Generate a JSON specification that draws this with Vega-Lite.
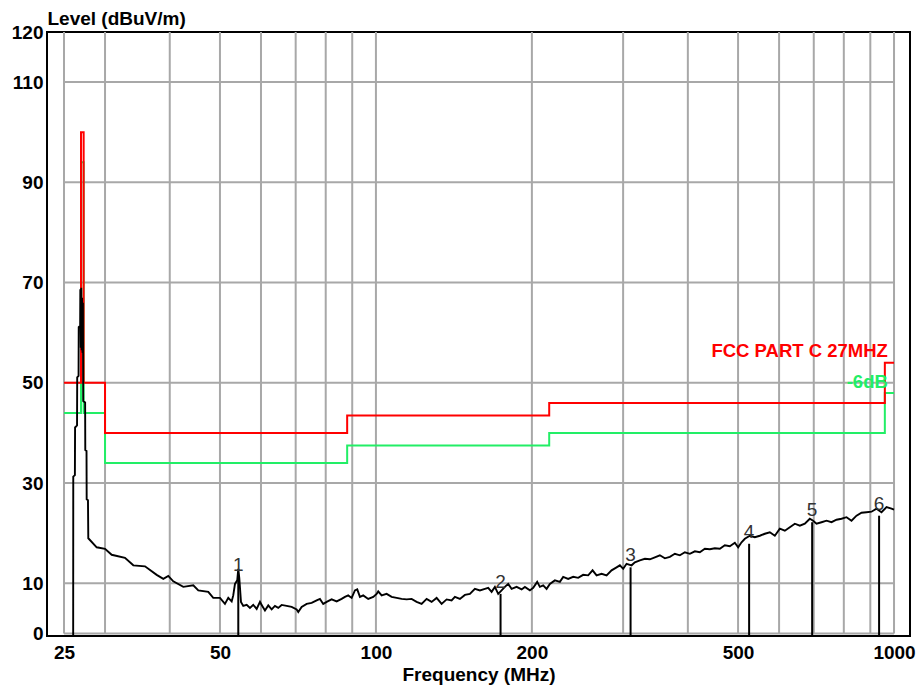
{
  "$schema": "https://vega.github.io/schema/vega-lite/v6.json",
  "width": 863,
  "height": 604,
  "autosize": {"type": "none"},
  "padding": {"left": 47, "top": 32, "right": 12, "bottom": 55},
  "background": "white",
  "config": {"view": {"stroke": "black", "strokeWidth": 2}, "font": "Liberation Sans"},
  "datasets": {
    "gridx": [
      {"f": 25, "lo": 0, "hi": 120}, {"f": 30, "lo": 0, "hi": 120}, {"f": 40, "lo": 0, "hi": 120}, {"f": 50, "lo": 0, "hi": 120},
      {"f": 60, "lo": 0, "hi": 120}, {"f": 70, "lo": 0, "hi": 120}, {"f": 80, "lo": 0, "hi": 120}, {"f": 90, "lo": 0, "hi": 120},
      {"f": 100, "lo": 0, "hi": 120}, {"f": 200, "lo": 0, "hi": 120}, {"f": 300, "lo": 0, "hi": 120}, {"f": 400, "lo": 0, "hi": 120},
      {"f": 500, "lo": 0, "hi": 120}, {"f": 600, "lo": 0, "hi": 120}, {"f": 700, "lo": 0, "hi": 120}, {"f": 800, "lo": 0, "hi": 120},
      {"f": 900, "lo": 0, "hi": 120}, {"f": 1000, "lo": 0, "hi": 120}
    ],
    "gridy": [
      {"v": 0, "lo": 25, "hi": 1000}, {"v": 10, "lo": 25, "hi": 1000}, {"v": 30, "lo": 25, "hi": 1000}, {"v": 50, "lo": 25, "hi": 1000},
      {"v": 70, "lo": 25, "hi": 1000}, {"v": 90, "lo": 25, "hi": 1000}, {"v": 110, "lo": 25, "hi": 1000}
    ],
    "limits": [
      {"s": "FCC PART C 27MHZ", "i": 0, "f": 25, "v": 50},
      {"s": "FCC PART C 27MHZ", "i": 1, "f": 26.96, "v": 50},
      {"s": "FCC PART C 27MHZ", "i": 2, "f": 26.96, "v": 100},
      {"s": "FCC PART C 27MHZ", "i": 3, "f": 27.28, "v": 100},
      {"s": "FCC PART C 27MHZ", "i": 4, "f": 27.28, "v": 50},
      {"s": "FCC PART C 27MHZ", "i": 5, "f": 30, "v": 50},
      {"s": "FCC PART C 27MHZ", "i": 6, "f": 30, "v": 40},
      {"s": "FCC PART C 27MHZ", "i": 7, "f": 88, "v": 40},
      {"s": "FCC PART C 27MHZ", "i": 8, "f": 88, "v": 43.5},
      {"s": "FCC PART C 27MHZ", "i": 9, "f": 216, "v": 43.5},
      {"s": "FCC PART C 27MHZ", "i": 10, "f": 216, "v": 46},
      {"s": "FCC PART C 27MHZ", "i": 11, "f": 960, "v": 46},
      {"s": "FCC PART C 27MHZ", "i": 12, "f": 960, "v": 54},
      {"s": "FCC PART C 27MHZ", "i": 13, "f": 1000, "v": 54},
      {"s": "-6dB", "i": 0, "f": 25, "v": 44},
      {"s": "-6dB", "i": 1, "f": 26.96, "v": 44},
      {"s": "-6dB", "i": 2, "f": 26.96, "v": 94},
      {"s": "-6dB", "i": 3, "f": 27.28, "v": 94},
      {"s": "-6dB", "i": 4, "f": 27.28, "v": 44},
      {"s": "-6dB", "i": 5, "f": 30, "v": 44},
      {"s": "-6dB", "i": 6, "f": 30, "v": 34},
      {"s": "-6dB", "i": 7, "f": 88, "v": 34},
      {"s": "-6dB", "i": 8, "f": 88, "v": 37.5},
      {"s": "-6dB", "i": 9, "f": 216, "v": 37.5},
      {"s": "-6dB", "i": 10, "f": 216, "v": 40},
      {"s": "-6dB", "i": 11, "f": 960, "v": 40},
      {"s": "-6dB", "i": 12, "f": 960, "v": 48},
      {"s": "-6dB", "i": 13, "f": 1000, "v": 48}
    ],
    "markers": [
      {"m": "1", "f": 54.24, "v": 11.3, "lo": -0.5},
      {"m": "2", "f": 174.0, "v": 7.9, "lo": -0.5},
      {"m": "3", "f": 310.1, "v": 13.2, "lo": -0.5},
      {"m": "4", "f": 525.2, "v": 17.9, "lo": -0.5},
      {"m": "5", "f": 695.0, "v": 22.2, "lo": -0.5},
      {"m": "6", "f": 935.8, "v": 23.5, "lo": -0.5}
    ],
    "trace": [
      {"f": 26.04, "v": -0.3}, {"f": 26.05, "v": 31.3}, {"f": 26.24, "v": 31.6}, {"f": 26.26, "v": 41.1},
      {"f": 26.49, "v": 41.5}, {"f": 26.51, "v": 51.1}, {"f": 26.67, "v": 51.4}, {"f": 26.69, "v": 61.1},
      {"f": 26.86, "v": 61.4}, {"f": 26.88, "v": 68.7}, {"f": 26.94, "v": 57}, {"f": 26.99, "v": 69},
      {"f": 27.04, "v": 56.5}, {"f": 27.09, "v": 67}, {"f": 27.14, "v": 56}, {"f": 27.19, "v": 66},
      {"f": 27.21, "v": 56}, {"f": 27.23, "v": 46.4}, {"f": 27.46, "v": 46.1}, {"f": 27.48, "v": 36.6},
      {"f": 27.63, "v": 36.4}, {"f": 27.65, "v": 26.8}, {"f": 27.81, "v": 26.6}, {"f": 27.85, "v": 19.0},
      {"f": 28.91, "v": 17.2}, {"f": 30.0, "v": 16.9}, {"f": 30.9, "v": 15.7}, {"f": 32.78, "v": 15.1},
      {"f": 34.02, "v": 13.6}, {"f": 35.83, "v": 13.4}, {"f": 37.74, "v": 11.7}, {"f": 38.87, "v": 10.9},
      {"f": 39.74, "v": 11.5}, {"f": 40.63, "v": 10.4}, {"f": 42.48, "v": 9.3}, {"f": 44.41, "v": 9.6},
      {"f": 45.41, "v": 8.6}, {"f": 47.47, "v": 8.3}, {"f": 48.53, "v": 7.1}, {"f": 50.0, "v": 7.1},
      {"f": 51.12, "v": 5.9}, {"f": 51.88, "v": 7.1}, {"f": 52.67, "v": 6.4}, {"f": 53.04, "v": 7.6},
      {"f": 53.45, "v": 9.9}, {"f": 53.99, "v": 10.6}, {"f": 54.24, "v": 12.9}, {"f": 54.48, "v": 11.1},
      {"f": 54.89, "v": 6.3}, {"f": 55.45, "v": 5.5}, {"f": 56.3, "v": 5.7}, {"f": 57.13, "v": 5.1},
      {"f": 57.97, "v": 5.7}, {"f": 58.86, "v": 4.9}, {"f": 59.73, "v": 6.3}, {"f": 60.34, "v": 5.5},
      {"f": 61.07, "v": 4.6}, {"f": 61.97, "v": 5.6}, {"f": 62.91, "v": 4.8}, {"f": 63.84, "v": 5.5},
      {"f": 64.78, "v": 5.1}, {"f": 65.77, "v": 5.7}, {"f": 67.25, "v": 5.5}, {"f": 68.76, "v": 5.3},
      {"f": 70.3, "v": 4.8}, {"f": 70.81, "v": 4.3}, {"f": 71.88, "v": 5.3}, {"f": 73.5, "v": 5.9},
      {"f": 75.15, "v": 6.1}, {"f": 76.84, "v": 6.6}, {"f": 77.97, "v": 6.9}, {"f": 79.12, "v": 5.9},
      {"f": 80.33, "v": 6.3}, {"f": 82.13, "v": 6.8}, {"f": 83.98, "v": 6.4}, {"f": 85.86, "v": 6.9},
      {"f": 87.13, "v": 7.3}, {"f": 88.42, "v": 7.6}, {"f": 89.77, "v": 7.1}, {"f": 91.09, "v": 8.6},
      {"f": 92.03, "v": 8.8}, {"f": 93.14, "v": 7.3}, {"f": 94.51, "v": 7.6}, {"f": 96.64, "v": 6.9},
      {"f": 98.81, "v": 7.3}, {"f": 100.31, "v": 7.9}, {"f": 101.03, "v": 8.4}, {"f": 102.57, "v": 7.6},
      {"f": 104.87, "v": 7.9}, {"f": 107.23, "v": 7.3}, {"f": 109.64, "v": 7.1}, {"f": 112.1, "v": 6.9},
      {"f": 114.62, "v": 6.8}, {"f": 117.19, "v": 6.9}, {"f": 119.82, "v": 6.3}, {"f": 122.52, "v": 5.9},
      {"f": 125.27, "v": 6.9}, {"f": 128.08, "v": 6.3}, {"f": 130.96, "v": 7.1}, {"f": 133.9, "v": 5.9},
      {"f": 136.91, "v": 6.8}, {"f": 139.98, "v": 6.6}, {"f": 142.05, "v": 7.3}, {"f": 145.24, "v": 6.9},
      {"f": 148.51, "v": 7.7}, {"f": 151.84, "v": 7.9}, {"f": 155.25, "v": 8.9}, {"f": 158.74, "v": 8.6},
      {"f": 162.31, "v": 8.9}, {"f": 164.71, "v": 9.1}, {"f": 167.21, "v": 8.3}, {"f": 169.68, "v": 9.3},
      {"f": 172.19, "v": 7.9}, {"f": 174.81, "v": 8.6}, {"f": 177.39, "v": 9.3}, {"f": 180.01, "v": 9.9},
      {"f": 182.75, "v": 8.9}, {"f": 186.86, "v": 9.3}, {"f": 191.06, "v": 8.8}, {"f": 193.88, "v": 9.3},
      {"f": 198.23, "v": 8.6}, {"f": 201.16, "v": 9.1}, {"f": 204.77, "v": 10.3}, {"f": 207.24, "v": 9.3},
      {"f": 210.3, "v": 9.6}, {"f": 213.5, "v": 8.9}, {"f": 216.66, "v": 9.9}, {"f": 221.52, "v": 10.6},
      {"f": 226.5, "v": 10.3}, {"f": 229.85, "v": 11.3}, {"f": 235.01, "v": 10.9}, {"f": 240.29, "v": 11.3},
      {"f": 245.69, "v": 11.1}, {"f": 251.21, "v": 11.7}, {"f": 256.85, "v": 11.6}, {"f": 261.92, "v": 12.6},
      {"f": 266.62, "v": 11.6}, {"f": 272.61, "v": 11.9}, {"f": 278.73, "v": 11.6}, {"f": 284.99, "v": 12.6},
      {"f": 291.4, "v": 13.2}, {"f": 295.7, "v": 13.6}, {"f": 300.07, "v": 12.9}, {"f": 304.64, "v": 13.9},
      {"f": 311.48, "v": 13.6}, {"f": 316.08, "v": 14.2}, {"f": 323.18, "v": 14.6}, {"f": 330.44, "v": 14.9},
      {"f": 337.86, "v": 14.8}, {"f": 345.45, "v": 15.2}, {"f": 353.21, "v": 15.6}, {"f": 361.15, "v": 15.0},
      {"f": 369.26, "v": 15.3}, {"f": 377.56, "v": 15.9}, {"f": 386.04, "v": 15.6}, {"f": 394.71, "v": 16.2},
      {"f": 403.58, "v": 15.9}, {"f": 412.64, "v": 16.4}, {"f": 421.91, "v": 16.2}, {"f": 431.39, "v": 16.9},
      {"f": 441.08, "v": 16.8}, {"f": 450.99, "v": 17.0}, {"f": 461.12, "v": 16.9}, {"f": 471.48, "v": 17.6},
      {"f": 482.07, "v": 17.4}, {"f": 492.9, "v": 18.1}, {"f": 500.18, "v": 17.2}, {"f": 507.79, "v": 18.2},
      {"f": 515.29, "v": 18.9}, {"f": 526.87, "v": 19.5}, {"f": 538.71, "v": 19.2}, {"f": 550.81, "v": 19.5},
      {"f": 563.18, "v": 19.9}, {"f": 575.83, "v": 20.2}, {"f": 588.77, "v": 19.5}, {"f": 602.0, "v": 20.9},
      {"f": 615.52, "v": 20.5}, {"f": 629.35, "v": 21.2}, {"f": 643.49, "v": 21.9}, {"f": 657.95, "v": 21.5},
      {"f": 672.72, "v": 21.9}, {"f": 687.84, "v": 22.9}, {"f": 698.0, "v": 22.5}, {"f": 708.62, "v": 21.9},
      {"f": 724.54, "v": 22.2}, {"f": 740.82, "v": 22.5}, {"f": 757.46, "v": 22.2}, {"f": 774.48, "v": 22.7},
      {"f": 791.87, "v": 22.9}, {"f": 809.67, "v": 23.2}, {"f": 827.86, "v": 22.5}, {"f": 846.45, "v": 23.5},
      {"f": 865.47, "v": 24.1}, {"f": 884.91, "v": 24.2}, {"f": 904.79, "v": 24.3}, {"f": 925.12, "v": 24.9},
      {"f": 945.9, "v": 24.2}, {"f": 967.14, "v": 25.2}, {"f": 988.87, "v": 24.9}, {"f": 1000, "v": 24.7}
    ]
  },
  "layer": [
    {
      "data": {"name": "gridx"},
      "mark": {"type": "rule", "stroke": "#a8a8a8", "strokeWidth": 2},
      "encoding": {
        "x": {"field": "f", "type": "quantitative",
          "scale": {"type": "log", "domain": [23.18, 1073.6], "nice": false},
          "axis": {"values": [25, 50, 100, 200, 500, 1000], "format": "d", "labelFont": "Liberation Sans", "labelFontSize": 19, "labelFontWeight": "bold", "labelColor": "#000", "labelPadding": 7, "ticks": false, "tickSize": 0, "domain": false, "grid": false, "labelFlush": false, "labelOverlap": false, "title": "Frequency (MHz)", "titleFont": "Liberation Sans", "titleFontSize": 19, "titleFontWeight": "bold", "titleColor": "#000", "titleY": 44, "titleBaseline": "alphabetic"}},
        "y": {"field": "lo", "type": "quantitative",
          "scale": {"domain": [-0.5, 120], "nice": false, "zero": false},
          "axis": {"values": [0, 10, 30, 50, 70, 90, 110, 120], "format": "d", "labelFont": "Liberation Sans", "labelFontSize": 19, "labelFontWeight": "bold", "labelColor": "#000", "labelPadding": 4, "labelBaseline": "middle", "ticks": false, "tickSize": 0, "domain": false, "grid": false, "labelFlush": false, "labelOverlap": false, "title": "Level (dBuV/m)", "titleFont": "Liberation Sans", "titleFontSize": 19, "titleFontWeight": "bold", "titleColor": "#000", "titleAngle": 0, "titleAlign": "left", "titleX": 0, "titleY": -8, "titleBaseline": "alphabetic"}},
        "y2": {"field": "hi"}
      }
    },
    {
      "data": {"name": "gridy"},
      "mark": {"type": "rule", "stroke": "#a8a8a8", "strokeWidth": 2},
      "encoding": {
        "y": {"field": "v", "type": "quantitative", "scale": {"domain": [-0.5, 120], "nice": false, "zero": false}},
        "x": {"field": "lo", "type": "quantitative", "scale": {"type": "log", "domain": [23.18, 1073.6], "nice": false}},
        "x2": {"field": "hi"}
      }
    },
    {
      "data": {"name": "limits"},
      "transform": [{"filter": "datum.s == '-6dB'"}],
      "mark": {"type": "line", "stroke": "#22ee66", "strokeWidth": 2},
      "encoding": {
        "x": {"field": "f", "type": "quantitative", "scale": {"type": "log", "domain": [23.18, 1073.6], "nice": false}},
        "y": {"field": "v", "type": "quantitative", "scale": {"domain": [-0.5, 120], "nice": false, "zero": false}},
        "order": {"field": "i", "type": "quantitative"}
      }
    },
    {
      "data": {"name": "limits"},
      "transform": [{"filter": "datum.s == 'FCC PART C 27MHZ'"}],
      "mark": {"type": "line", "stroke": "#ff0000", "strokeWidth": 2},
      "encoding": {
        "x": {"field": "f", "type": "quantitative", "scale": {"type": "log", "domain": [23.18, 1073.6], "nice": false}},
        "y": {"field": "v", "type": "quantitative", "scale": {"domain": [-0.5, 120], "nice": false, "zero": false}},
        "order": {"field": "i", "type": "quantitative"}
      }
    },
    {
      "data": {"name": "trace"},
      "mark": {"type": "line", "stroke": "#000000", "strokeWidth": 1.9},
      "encoding": {
        "x": {"field": "f", "type": "quantitative", "scale": {"type": "log", "domain": [23.18, 1073.6], "nice": false}},
        "y": {"field": "v", "type": "quantitative", "scale": {"domain": [-0.5, 120], "nice": false, "zero": false}}
      }
    },
    {
      "data": {"name": "markers"},
      "mark": {"type": "rule", "stroke": "#000000", "strokeWidth": 2},
      "encoding": {
        "x": {"field": "f", "type": "quantitative", "scale": {"type": "log", "domain": [23.18, 1073.6], "nice": false}},
        "y": {"field": "lo", "type": "quantitative", "scale": {"domain": [-0.5, 120], "nice": false, "zero": false}},
        "y2": {"field": "v"}
      }
    },
    {
      "data": {"name": "markers"},
      "mark": {"type": "text", "fontSize": 19, "font": "Liberation Sans", "fill": "#333333", "baseline": "middle", "align": "center", "dy": -12},
      "encoding": {
        "x": {"field": "f", "type": "quantitative", "scale": {"type": "log", "domain": [23.18, 1073.6], "nice": false}},
        "y": {"field": "v", "type": "quantitative", "scale": {"domain": [-0.5, 120], "nice": false, "zero": false}},
        "text": {"field": "m"}
      }
    },
    {
      "data": {"name": "limits"},
      "transform": [{"filter": "datum.i == 12 && datum.s == 'FCC PART C 27MHZ'"}],
      "mark": {"type": "text", "fontSize": 18.5, "fontWeight": "bold", "font": "Liberation Sans", "fill": "#ff0000", "baseline": "middle", "align": "right", "dx": 3, "dy": -12},
      "encoding": {
        "x": {"field": "f", "type": "quantitative", "scale": {"type": "log", "domain": [23.18, 1073.6], "nice": false}},
        "y": {"field": "v", "type": "quantitative", "scale": {"domain": [-0.5, 120], "nice": false, "zero": false}},
        "text": {"field": "s"}
      }
    },
    {
      "data": {"name": "limits"},
      "transform": [{"filter": "datum.i == 12 && datum.s == '-6dB'"}],
      "mark": {"type": "text", "fontSize": 18.5, "fontWeight": "bold", "font": "Liberation Sans", "fill": "#22ee66", "baseline": "middle", "align": "right", "dx": 3, "dy": -11},
      "encoding": {
        "x": {"field": "f", "type": "quantitative", "scale": {"type": "log", "domain": [23.18, 1073.6], "nice": false}},
        "y": {"field": "v", "type": "quantitative", "scale": {"domain": [-0.5, 120], "nice": false, "zero": false}},
        "text": {"field": "s"}
      }
    }
  ]
}
